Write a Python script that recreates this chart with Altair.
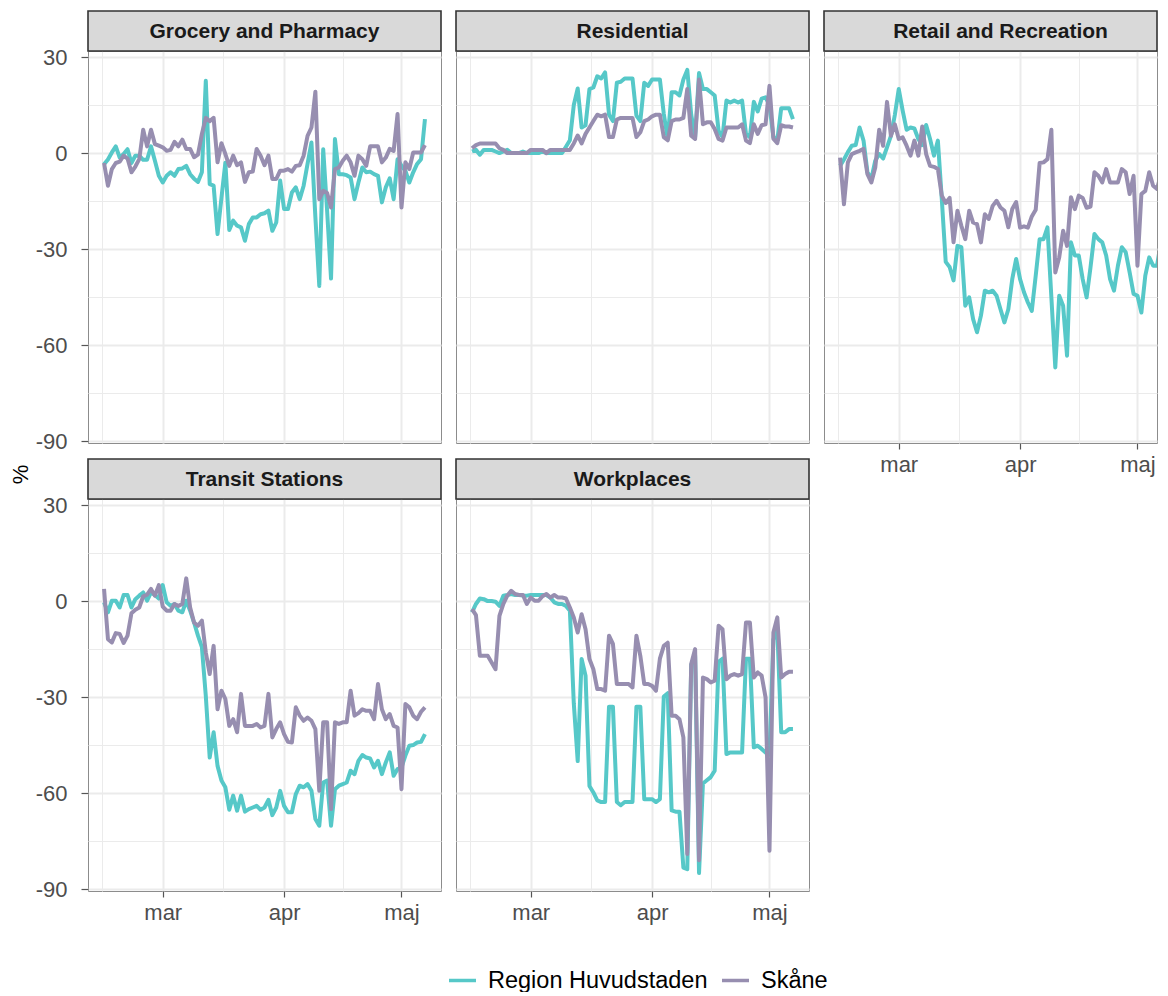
import altair as alt
import pandas as pd
from datetime import datetime, timezone, timedelta

# ---------------- data ----------------
START = "2020-02-15"
N_DAYS = 83
regions = ["Region Huvudstaden", "Skåne"]
categories = ["Grocery and Pharmacy", "Residential", "Retail and Recreation",
              "Transit Stations", "Workplaces"]

grocery_huvudstaden = [
    -3.5, -2.0, 0.2, 2.1, -1.4, -0.3, 1.2, -3.1, -0.8, -0.8,
    -2.1, -2.1, 2.1, -2.4, -7.1, -9.2, -7.1, -6.0, -7.1, -5.0,
    -4.8, -4.0, -6.6, -8.0, -9.0, -6.0, 22.6, -9.7, -10.2, -25.3,
    -14.0, -3.0, -24.0, -21.1, -22.7, -23.2, -27.4, -22.2, -20.1, -20.1,
    -19.1, -18.8, -18.0, -24.3, -21.7, -8.6, -17.5, -17.5, -12.3, -10.7,
    -14.4, -10.2, -3.4, 3.3, -20.0, -41.5, 1.2, -18.0, -39.2, 4.4,
    -6.6, -6.6, -6.9, -7.6, -14.4, -9.2, -4.5, -6.0, -5.8, -6.6,
    -7.1, -15.4, -10.7, -7.9, -14.4, -1.9, -4.0, -5.5, -9.2, -6.0,
    -3.4, -1.9, 10.6]
grocery_skane = [
    -3.1, -10.2, -5.0, -3.1, -2.7, -0.8, -1.7, -6.0, -4.2, -1.9,
    7.3, 2.1, 7.3, 2.8, 2.3, 1.8, 0.7, 1.0, 3.5, 2.1,
    4.2, 1.3, 1.3, -1.3, -0.5, 6.0, 11.0, 10.0, 11.0, -2.9,
    3.1, -0.3, -4.0, -0.8, -3.8, -2.9, -9.0, -6.0, -5.8, 1.3,
    -0.8, -3.8, -0.8, -8.1, -8.1, -5.5, -5.5, -5.0, -5.8, -4.0,
    -3.8, -0.8, 5.4, 8.0, 19.2, -14.4, -11.8, -12.5, -17.0, -5.0,
    -4.5, -2.4, -0.8, -2.9, -7.1, -0.8, -1.9, -4.0, 2.1, 2.1,
    2.1, -2.9, -1.4, 1.3, 0.7, 12.2, -17.0, -2.9, -5.0, 0.2,
    0.2, 0.2, 2.5]
residential_huvudstaden = [
    0.5, 1.0, -0.5, 1.0, 1.0, 1.0, 0.5, 0.0, 0.5, 1.0,
    0.0, 0.0, 0.0, 0.5, 0.0, 0.0, 0.0, 0.0, 0.5, 0.0,
    0.0, 0.0, 0.0, 0.0, 2.0, 4.0, 15.0, 20.2, 8.0, 8.7,
    20.0, 20.5, 24.0, 23.3, 25.2, 12.0, 10.0, 22.0, 22.3, 23.3,
    23.3, 23.3, 11.7, 10.0, 22.0, 21.0, 23.0, 23.0, 23.0, 12.2,
    4.4, 19.0, 19.0, 18.0, 23.0, 26.0, 12.0, 5.0, 25.0, 20.0,
    20.0, 19.0, 18.0, 7.0, 5.0, 16.4, 15.8, 16.4, 15.8, 16.4,
    6.0, 5.0, 16.0, 13.0, 17.0, 17.4, 15.0, 5.0, 4.0, 14.0,
    14.0, 14.0, 10.6]
residential_skane = [
    1.5, 2.5, 3.0, 3.0, 3.0, 3.0, 3.0, 1.5, 1.0, 0.0,
    0.0, 0.0, 0.0, 0.0, 0.0, 1.0, 1.0, 1.0, 1.0, 0.0,
    1.0, 1.0, 1.0, 1.0, 1.0, 1.0, 3.0, 5.5, 3.0, 6.0,
    8.0, 10.0, 12.0, 11.5, 12.0, 5.0, 5.0, 10.5, 11.0, 11.0,
    11.0, 11.0, 5.0, 6.5, 10.0, 10.5, 11.5, 12.0, 12.0, 5.0,
    4.0, 10.0, 10.5, 10.5, 11.0, 20.0, 5.4, 4.4, 23.0, 9.0,
    9.6, 9.6, 7.5, 4.4, 3.9, 8.0, 8.0, 8.0, 8.0, 9.0,
    3.9, 3.1, 9.0, 6.0, 8.7, 9.0, 21.0, 4.5, 3.1, 8.7,
    8.3, 8.3, 8.0]
retail_huvudstaden = [
    -4.0, -2.0, 0.3, 2.3, 2.5, 8.0, 3.9, -6.0, -8.1, -2.4,
    -0.3, -1.7, 1.8, 5.4, 11.9, 20.0, 13.3, 7.3, 8.0, 7.7,
    4.4, 2.5, 8.8, 4.4, -0.8, 3.9, -14.4, -34.0, -35.6, -39.8,
    -29.0, -29.4, -47.7, -45.1, -51.9, -56.0, -50.8, -43.0, -43.5, -43.0,
    -44.6, -48.8, -52.9, -48.8, -39.4, -33.1, -39.4, -43.5, -46.7, -49.3,
    -38.3, -26.9, -26.9, -23.2, -45.1, -67.0, -44.6, -47.7, -63.3, -27.9,
    -32.0, -32.0, -39.4, -45.1, -35.7, -25.3, -26.9, -27.9, -32.0, -39.4,
    -43.0, -35.2, -29.4, -31.0, -37.3, -44.0, -44.6, -49.8, -38.3, -32.6,
    -35.2, -35.2, -27.7]
retail_skane = [
    -1.4, -16.0, -2.9, -0.3, 0.2, 0.7, 1.3, -6.6, -9.2, -4.5,
    7.3, 2.3, 16.0, 5.4, 9.0, 4.4, 4.9, 2.3, -0.8, 3.9,
    -0.8, 8.3, -0.3, -4.0, -4.3, -5.0, -13.3, -15.6, -14.0, -27.9,
    -18.0, -22.7, -26.9, -18.0, -21.7, -22.2, -27.9, -19.1, -20.6, -16.5,
    -14.9, -17.0, -18.0, -23.2, -17.5, -15.3, -23.3, -22.9, -23.3, -19.8,
    -17.7, -3.1, -2.9, -1.9, 7.3, -37.3, -32.6, -24.3, -29.0, -13.8,
    -17.5, -13.3, -14.0, -17.1, -16.7, -6.0, -7.1, -9.2, -5.0, -9.2,
    -9.2, -9.2, -5.0, -6.0, -12.8, -7.1, -35.2, -12.8, -11.8, -6.0,
    -10.2, -11.2, -6.5]
transit_huvudstaden = [
    -0.4, -3.5, 0.1, 0.1, -2.0, 1.9, 1.9, -2.0, 0.6, 1.7,
    2.7, 0.1, 2.7, 1.9, 0.8, 5.0, -0.4, -1.5, -0.9, -3.0,
    -3.5, 0.1, -3.0, -6.7, -10.8, -14.4, -29.6, -48.9, -41.0, -51.5,
    -56.1, -58.2, -65.2, -60.8, -65.5, -60.8, -65.8, -65.0, -64.5, -64.0,
    -65.2, -64.5, -62.1, -66.9, -64.5, -59.3, -64.0, -66.0, -66.0, -60.3,
    -57.7, -58.2, -57.2, -59.3, -68.1, -70.2, -56.7, -56.1, -70.2, -58.8,
    -57.7, -57.2, -56.7, -53.0, -54.1, -49.9, -48.1, -48.9, -49.2, -52.0,
    -49.9, -54.1, -50.4, -47.3, -54.6, -52.5, -52.0, -48.3, -45.2, -45.0,
    -44.2, -44.0, -41.6]
transit_skane = [
    3.8, -11.9, -12.9, -10.0, -10.3, -13.1, -10.8, -3.8, -2.7, -2.0,
    1.5, 2.0, 3.8, 1.7, 5.0, -1.7, -3.0, -3.0, -0.9, -1.5,
    -0.9, 7.1, -2.0, -6.7, -7.7, -6.1, -16.0, -22.8, -14.0, -33.8,
    -28.0, -30.6, -39.0, -36.9, -41.0, -29.0, -39.0, -39.0, -39.0, -38.4,
    -39.5, -39.0, -29.0, -42.6, -40.0, -37.9, -41.6, -44.0, -44.2, -33.2,
    -35.8, -37.4, -36.4, -37.4, -40.0, -59.3, -37.9, -37.9, -65.0, -37.9,
    -38.4, -37.9, -37.9, -28.0, -35.8, -35.0, -33.8, -34.3, -34.3, -36.9,
    -25.9, -33.8, -36.9, -35.3, -39.0, -39.5, -58.8, -32.2, -33.2, -35.8,
    -36.9, -34.6, -33.2]
workplaces_huvudstaden = [
    -3.5, -0.9, 0.8, 0.6, 0.0, 0.0, -0.2, -1.5, 1.7, 1.9,
    2.2, 1.9, 1.9, 1.7, 1.7, 1.9, 1.9, 1.9, 1.9, 1.9,
    1.1, -0.4, -0.9, -0.9, -1.5, -3.0, -32.0, -50.0, -18.1, -23.3,
    -57.8, -59.8, -62.3, -62.8, -62.8, -33.0, -33.0, -62.8, -63.8, -62.8,
    -62.8, -62.8, -33.0, -33.0, -61.9, -61.9, -61.9, -62.8, -61.9, -29.8,
    -28.8, -65.4, -65.8, -65.8, -83.3, -83.8, -20.0, -17.0, -85.0, -57.0,
    -56.0, -55.0, -53.0, -19.0, -18.0, -47.8, -47.3, -47.3, -47.3, -47.3,
    -18.0, -18.0, -45.7, -45.2, -46.2, -47.3, -48.0, -12.0, -9.0, -41.0,
    -41.0, -40.0, -40.0]
workplaces_skane = [
    -2.5, -4.4, -17.1, -17.1, -17.1, -19.2, -21.3, -4.6, -0.9, 1.7,
    3.2, 2.2, 1.9, 1.9, -0.9, 1.1, 0.1, 0.1, 1.5, 2.2,
    1.1, 1.9, 1.1, 1.1, 0.8, -2.0, -5.1, -9.8, -4.1, -8.8,
    -18.1, -21.3, -27.5, -27.5, -28.0, -10.8, -13.4, -25.9, -25.9, -25.9,
    -25.9, -27.0, -10.8, -17.1, -25.9, -25.9, -26.5, -28.0, -18.0, -14.0,
    -13.0, -35.8, -35.8, -36.9, -42.6, -79.0, -19.7, -15.0, -81.0, -23.9,
    -24.4, -25.4, -24.9, -7.7, -8.8, -24.4, -23.3, -22.8, -23.3, -22.8,
    -6.7, -6.7, -23.9, -22.3, -23.3, -30.1, -78.0, -9.8, -5.1, -23.9,
    -22.8, -22.1, -22.1]

series = {
    "Grocery and Pharmacy": (grocery_huvudstaden, grocery_skane),
    "Residential": (residential_huvudstaden, residential_skane),
    "Retail and Recreation": (retail_huvudstaden, retail_skane),
    "Transit Stations": (transit_huvudstaden, transit_skane),
    "Workplaces": (workplaces_huvudstaden, workplaces_skane),
}

dates = pd.date_range(START, periods=N_DAYS, freq="D").strftime("%Y-%m-%d").tolist()
rows = []
for cat, (hov, ska) in series.items():
    for reg, vals in zip(regions, (hov, ska)):
        for d, v in zip(dates, vals):
            rows.append({"date": d, "category": cat, "region": reg, "value": v})
df = pd.DataFrame(rows)

# ---------------- styling ----------------
FONT = "Liberation Sans"
W, H = 353, 392
W_CUT = 333          # third column is cut at the page edge, as in the reference
STRIP_H = 40
TEAL, PURPLE = "#56C8C8", "#978EB0"


def ms(dt):
    return int(dt.replace(tzinfo=timezone.utc).timestamp() * 1000)


d0 = datetime(2020, 2, 15)
d1 = d0 + timedelta(days=N_DAYS - 1)
pad = (d1 - d0) * 0.05
x_lo, x_hi = ms(d0 - pad), ms(d1 + pad)
x_ticks = [ms(datetime(2020, 2, 14, 12)), ms(datetime(2020, 3, 1)),
           ms(datetime(2020, 3, 16, 12)), ms(datetime(2020, 4, 1)),
           ms(datetime(2020, 4, 16)), ms(datetime(2020, 5, 1))]
y_ticks = [-90, -75, -60, -45, -30, -15, 0, 15, 30]

x_major = "utcdate(datum.value) === 1 && utchours(datum.value) === 0"
y_major = "datum.value % 30 === 0"


def x_axis(show):
    common = dict(
        values=x_ticks, grid=True, domain=False,
        gridColor="#EBEBEB",
        gridWidth={"condition": {"test": x_major, "value": 2.0}, "value": 1.0},
        title=None,
    )
    if show:
        return alt.Axis(
            **common,
            labelExpr=f"{x_major} ? ['jan','feb','mar','apr','maj','jun'][utcmonth(datum.value)] : ''",
            labelFontSize=22, labelColor="#4D4D4D", labelFont=FONT, labelPadding=5,
            labelFlush=False, labelOverlap=False,
            ticks=True, tickSize=6, tickColor="#555555", tickWidth=1.2,
            tickOpacity={"condition": {"test": x_major, "value": 1}, "value": 0},
        )
    return alt.Axis(**common, labels=False, ticks=False)


def y_axis(show, with_title=False):
    common = dict(
        values=y_ticks, grid=True, domain=False,
        gridColor="#EBEBEB",
        gridWidth={"condition": {"test": y_major, "value": 2.0}, "value": 1.0},
    )
    if show:
        if with_title:
            extra = dict(title="%", titleX=-56, titleY=H + 31, titleAngle=270,
                         titleFontSize=22, titleFontWeight="normal",
                         titleColor="black", titleFont=FONT, titleAlign="center")
        else:
            extra = dict(title=None)
        return alt.Axis(
            **common, **extra,
            labelExpr=f"{y_major} ? '' + datum.value : ''",
            labelFontSize=22, labelColor="#4D4D4D", labelFont=FONT, labelPadding=14,
            ticks=True, tickSize=7, tickColor="#555555", tickWidth=1.2,
            tickOpacity={"condition": {"test": y_major, "value": 1}, "value": 0},
        )
    return alt.Axis(**common, labels=False, ticks=False, title=None)


color_scale = alt.Scale(domain=regions, range=[TEAL, PURPLE])
legend = alt.Legend(
    title=None, orient="none", legendX=359, legendY=914, direction="horizontal",
    symbolType="stroke", symbolSize=729, symbolStrokeWidth=3.5,
    labelFontSize=23.5, labelFont=FONT, labelColor="black", labelOffset=10,
    labelLimit=0, columnPadding=7, padding=0,
)


def panel(cat, show_x, show_y, with_title=False, width=W):
    strip_df = pd.DataFrame({"label": [cat]})
    strip_rect = alt.Chart(strip_df).mark_rect(
        fill="#D9D9D9", stroke="#333333", strokeWidth=1.6
    ).encode(x=alt.value(0), x2=alt.value("width"),
             y=alt.value(-STRIP_H), y2=alt.value(0))
    strip_text = alt.Chart(strip_df).mark_text(
        font=FONT, fontSize=21, fontWeight="bold", color="#1A1A1A",
        align="center", baseline="middle"
    ).encode(text="label:N", x=alt.value(W / 2), y=alt.value(-STRIP_H / 2 + 1))
    # same px-per-day in every panel: a narrower panel shows a shorter date span
    x_dom = [x_lo, x_lo + (x_hi - x_lo) * width / W]
    lines = alt.Chart(df[df.category == cat]).mark_line(
        strokeWidth=4, strokeJoin="round", clip=True
    ).encode(
        x=alt.X("date:T", scale=alt.Scale(type="utc", domain=x_dom, nice=False),
                axis=x_axis(show_x)),
        y=alt.Y("value:Q", scale=alt.Scale(domain=[-90.6, 31.9], nice=False, zero=False),
                axis=y_axis(show_y, with_title)),
        color=alt.Color("region:N", scale=color_scale, legend=legend),
    )
    return alt.layer(lines, strip_rect, strip_text).properties(width=width, height=H)


panels = [
    panel("Grocery and Pharmacy", False, True, with_title=True),
    panel("Residential", False, False),
    panel("Retail and Recreation", True, False, width=W_CUT),
    panel("Transit Stations", True, True),
    panel("Workplaces", True, False),
]

chart = alt.concat(
    *panels, columns=3, spacing={"row": 56, "column": 15}, bounds="flush"
).properties(
    padding={"left": 0, "top": 1, "right": 0, "bottom": 0}
).configure(font=FONT).configure_view(stroke="#8C8C8C", strokeWidth=1)

chart.save("out.html", embed_options={"renderer": "svg", "actions": False})
